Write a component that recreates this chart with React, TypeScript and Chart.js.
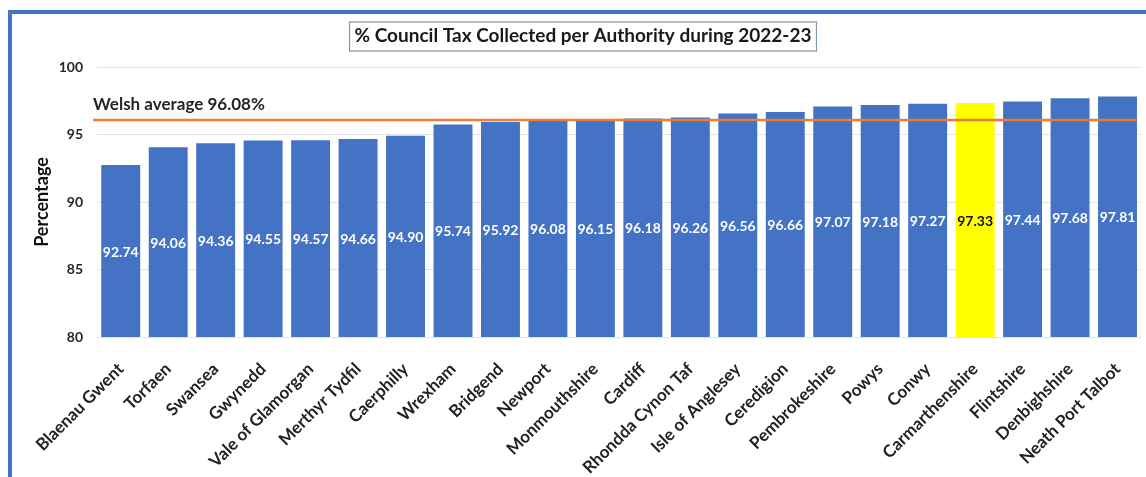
import React, { useEffect, useRef } from "react";
import { Chart, registerables } from "chart.js";

Chart.register(...registerables);

const categories = [
  "Blaenau Gwent", "Torfaen", "Swansea", "Gwynedd", "Vale of Glamorgan", "Merthyr Tydfil",
  "Caerphilly", "Wrexham", "Bridgend", "Newport", "Monmouthshire", "Cardiff",
  "Rhondda Cynon Taf", "Isle of Anglesey", "Ceredigion", "Pembrokeshire", "Powys", "Conwy",
  "Carmarthenshire", "Flintshire", "Denbighshire", "Neath Port Talbot",
];
const values = [
  92.74, 94.06, 94.36, 94.55, 94.57, 94.66, 94.9, 95.74, 95.92, 96.08, 96.15, 96.18,
  96.26, 96.56, 96.66, 97.07, 97.18, 97.27, 97.33, 97.44, 97.68, 97.81,
];
const highlighted = ["Carmarthenshire"];
const welshAverage = 96.08;
const averageLabel = "Welsh average 96.08%";
const chartTitle = "% Council Tax Collected per Authority during 2022-23";
const yTicks = [80, 85, 90, 95, 100];

const BLUE = "#4472C4";
const YELLOW = "#FFFF00";
const ORANGE = "#ED7D31";
const FONT = "Lato, 'Open Sans', sans-serif";

const overlayPlugin = {
  id: "overlay",
  afterDraw(chart: any) {
    const ctx = chart.ctx;
    const xs = chart.scales.x;
    const ys = chart.scales.y;
    const baseY = ys.getPixelForValue(ys.min);
    ctx.save();
    ctx.textAlign = "center";
    ctx.textBaseline = "middle";
    ctx.font = `bold 14px ${FONT}`;
    values.forEach((v, i) => {
      const isHi = highlighted.includes(categories[i]);
      const x = xs.getPixelForValue(i);
      const top = ys.getPixelForValue(v);
      ctx.fillStyle = isHi ? "#111111" : "#FFFFFF";
      ctx.fillText(v.toFixed(2), x, (top + baseY) / 2 + 1);
    });
    // average line
    const y = ys.getPixelForValue(welshAverage);
    const area = chart.chartArea;
    ctx.strokeStyle = ORANGE;
    ctx.lineWidth = 2.5;
    ctx.beginPath();
    ctx.moveTo(area.left - 4, y);
    ctx.lineTo(area.right - 4, y);
    ctx.stroke();
    ctx.textAlign = "left";
    ctx.fillStyle = "#262626";
    ctx.font = `bold 17px ${FONT}`;
    ctx.fillText(averageLabel, area.left - 4, y - 15);
    // title box
    ctx.font = `bold 19px ${FONT}`;
    ctx.textAlign = "center";
    const cx = 571;
    const cy = 22;
    const w = ctx.measureText(chartTitle).width;
    ctx.fillStyle = "#1a1a1a";
    ctx.fillText(chartTitle, cx, cy);
    ctx.strokeStyle = "#8497B0";
    ctx.lineWidth = 1.2;
    ctx.strokeRect(cx - w / 2 - 5, cy - 14, w + 10, 29);
    ctx.restore();
  },
};

export default function App() {
  const ref = useRef<HTMLCanvasElement | null>(null);
  useEffect(() => {
    if (!ref.current) return;
    const chart = new Chart(ref.current, {
      type: "bar",
      data: {
        labels: categories,
        datasets: [
          {
            data: values,
            backgroundColor: categories.map((c) => (highlighted.includes(c) ? YELLOW : BLUE)),
            barPercentage: 0.82,
            categoryPercentage: 1,
          },
        ],
      },
      options: {
        responsive: false,
        animation: false,
        layout: { padding: { top: 53, right: 2, left: 0, bottom: 0 } },
        plugins: { legend: { display: false }, tooltip: { enabled: false }, title: { display: false } },
        scales: {
          x: {
            grid: { display: false },
            border: { display: false },
            ticks: {
              minRotation: 45,
              maxRotation: 45,
              padding: 14,
              color: "#222222",
              font: { family: FONT, size: 17, weight: "bold" },
            },
            afterFit(scale: any) {
              scale.height = 140;
            },
          },
          y: {
            min: 80,
            max: 100,
            afterBuildTicks(scale: any) {
              scale.ticks = yTicks.map((v) => ({ value: v }));
            },
            grid: { color: "#E3E3E3", drawTicks: false, lineWidth: 1 },
            border: { display: false },
            ticks: {
              padding: 14,
              color: "#262626",
              font: { family: FONT, size: 14, weight: "bold" },
            },
            title: {
              display: true,
              text: "Percentage",
              color: "#111111",
              font: { family: FONT, size: 18, weight: "bold" },
              padding: { top: 19, bottom: 0 },
            },
            afterFit(scale: any) {
              scale.width = 85;
            },
          },
        },
      },
      plugins: [overlayPlugin],
    } as any);
    return () => chart.destroy();
  }, []);
  return (
    <div
      style={{
        position: "fixed",
        left: 8,
        top: 10,
        width: 1134,
        height: 463,
        borderTop: `4px solid ${BLUE}`,
        borderLeft: `4px solid ${BLUE}`,
        background: "#FFFFFF",
      }}
    >
      <canvas ref={ref} width={1134} height={463} style={{ display: "block" }} />
    </div>
  );
}
